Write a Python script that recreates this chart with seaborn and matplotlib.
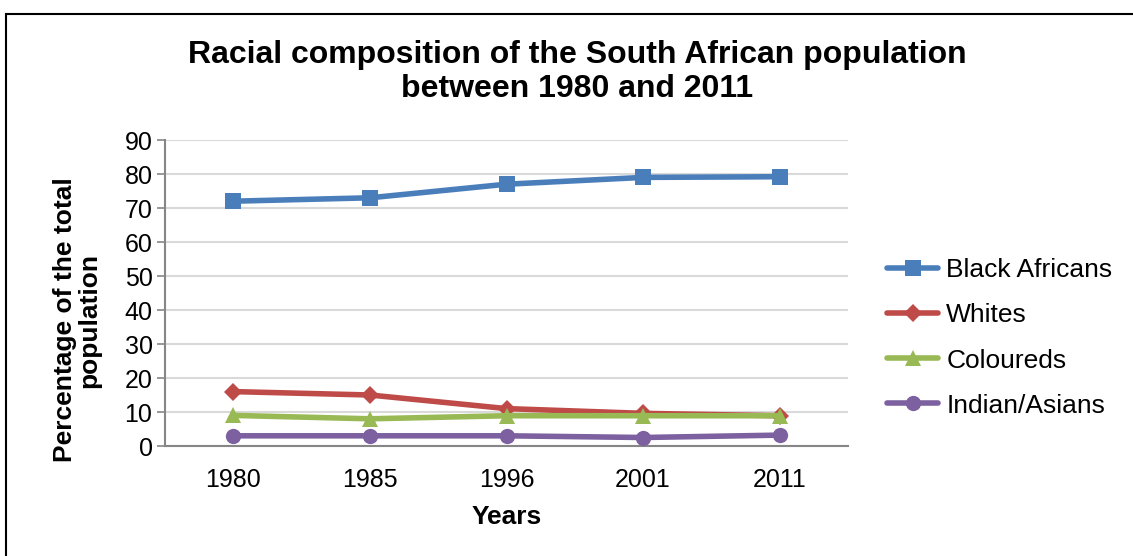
import matplotlib
matplotlib.use("Agg")
import matplotlib.pyplot as plt
import matplotlib.patches as mpatches
import seaborn as sns
import pandas as pd

# Census years and share of total population (%) per group
years = ["1980", "1985", "1996", "2001", "2011"]
black_africans = [72.0, 73.0, 77.0, 79.0, 79.2]
whites = [16.0, 15.0, 11.0, 9.6, 8.9]
coloureds = [9.0, 8.0, 8.9, 8.9, 8.9]
indian_asians = [3.0, 3.0, 3.0, 2.5, 3.2]

groups = ["Black Africans", "Whites", "Coloureds", "Indian/Asians"]
series = [black_africans, whites, coloureds, indian_asians]
colors = ["#4a7ebb", "#be4b48", "#98b954", "#7d60a0"]
markers = ["s", "D", "^", "o"]
msizes = [11, 9, 11, 11]

rows = []
for g, vals in zip(groups, series):
    for i, (yr, v) in enumerate(zip(years, vals)):
        rows.append({"pos": i, "year": yr, "value": v, "group": g})
df = pd.DataFrame(rows)

sns.set_theme(style="white")
plt.rcParams["font.family"] = ["Liberation Sans", "DejaVu Sans"]
plt.rcParams["text.color"] = "black"
plt.rcParams["xtick.color"] = "black"
plt.rcParams["ytick.color"] = "black"

fig = plt.figure(figsize=(11.33, 5.56), dpi=100)
ax = fig.add_axes([165 / 1133, 1 - 446 / 556, (848 - 165) / 1133, (446 - 140) / 556])

sns.lineplot(data=df, x="pos", y="value", hue="group", style="group",
             hue_order=groups, style_order=groups,
             palette=dict(zip(groups, colors)),
             markers=dict(zip(groups, markers)), dashes=False,
             linewidth=4, markersize=11, markeredgewidth=0,
             legend=False, ax=ax, zorder=3)
for line, ms in zip(ax.get_lines(), msizes):
    line.set_markersize(ms)
    line.set_solid_capstyle("round")
    line.set_solid_joinstyle("round")

ax.set_xlim(-0.5, len(years) - 0.5)
ax.set_ylim(0, 90)
ax.set_yticks(range(0, 91, 10))
ax.set_xticks(range(len(years)))
ax.set_xticklabels(years)
ax.set_xticks([i - 0.5 for i in range(len(years) + 1)], minor=True)
ax.tick_params(axis="x", which="major", length=0, pad=16, labelsize=18, labelcolor="black")
ax.tick_params(axis="x", which="minor", length=8, width=1.2, color="#868686", direction="out")
ax.tick_params(axis="y", which="major", length=6, width=1.2, color="#868686",
               direction="out", labelsize=18, pad=3, left=True, labelcolor="black")

ax.grid(axis="y", color="#d9d9d9", linewidth=1.5, zorder=0)
ax.grid(axis="x", visible=False)
for side in ["top", "right"]:
    ax.spines[side].set_visible(False)
for side in ["left", "bottom"]:
    ax.spines[side].set_color("#868686")
    ax.spines[side].set_linewidth(1.5)
ax.set_axisbelow(True)

ax.set_xlabel("")
ax.set_ylabel("")
fig.text(507 / 1133, 1 - 517 / 556, "Years", ha="center", va="center",
         fontsize=19, fontweight="bold")
fig.text(77 / 1133, 1 - 320 / 556, "Percentage of the total\npopulation",
         ha="center", va="center", rotation=90, fontsize=19, fontweight="bold",
         linespacing=1.0)

fig.text(577 / 1133, 1 - 72 / 556,
         "Racial composition of the South African population\nbetween 1980 and 2011",
         ha="center", va="center", fontsize=23, fontweight="bold", linespacing=1.2)

handles = [plt.Line2D([], [], color=c, marker=m, markersize=ms, linewidth=4,
                      markeredgewidth=0, solid_capstyle="round")
           for c, m, ms in zip(colors, markers, msizes)]
fig.legend(handles, groups, loc="center left",
           bbox_to_anchor=(887 / 1133, 1 - 338 / 556), frameon=False,
           fontsize=19, handlelength=1.95, handletextpad=0.3,
           labelspacing=0.8, borderaxespad=0, borderpad=0)

# Outer frame
fig.patches.append(mpatches.Rectangle((6 / 1133, -0.05), 1.1, 1 - 14 / 556 + 0.05,
                                      transform=fig.transFigure, fill=False,
                                      edgecolor="black", linewidth=1.5))

fig.savefig("out.png", dpi=100, facecolor="white")
